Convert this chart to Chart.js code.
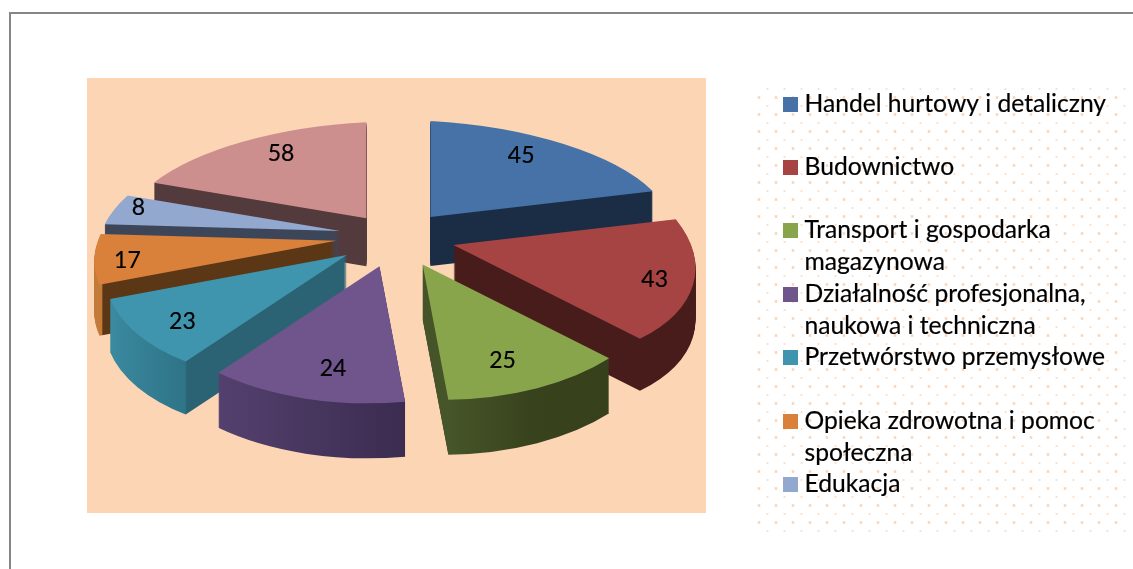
<!DOCTYPE html>
<html lang="pl">
<head>
<meta charset="utf-8">
<style>html,body{margin:0;padding:0;background:#fff}canvas{display:block}</style>
<script src="https://cdn.jsdelivr.net/npm/chart.js@4/dist/chart.umd.min.js"></script>
</head>
<body>
<canvas id="c" width="1133" height="569"></canvas>
<script>
// ---- data ----
const categories = ['Handel hurtowy i detaliczny','Budownictwo','Transport i gospodarka magazynowa',
  'Działalność profesjonalna, naukowa i techniczna','Przetwórstwo przemysłowe',
  'Opieka zdrowotna i pomoc społeczna','Edukacja',''];
const values = [45,43,25,24,23,17,8,58];
const legendLines = [['Handel hurtowy i detaliczny'],['Budownictwo'],['Transport i gospodarka','magazynowa'],
  ['Działalność profesjonalna,','naukowa i techniczna'],['Przetwórstwo przemysłowe'],
  ['Opieka zdrowotna i pomoc','społeczna'],['Edukacja']];

// ---- styles ----
const topColors = ['#4672a8','#a54442','#88a54b','#70558d','#4095ae','#d9803a','#92a8cf','#cd8e8e'];
const wallStops = [
  [[0,'#1a2d45'],[1,'#1a2d45']],
  [[0,'#471c1a'],[1,'#471c1a']],
  [[0,'#36401b'],[0.5,'#38431d'],[1,'#47552a']],
  [[0,'#3b2c50'],[1,'#54406e']],
  [[0,'#2b6374'],[0.005,'#2f7488'],[1,'#3b8ba1']],
  [[0,'#5c3716'],[0.972,'#5c3716'],[0.978,'#c47a38'],[1,'#c47a38']],
  [[0,'#3d4659'],[1,'#3d4659']],
  [[0,'#533b3d'],[1,'#533b3d']]
];
const radialWall = [false,false,false,false,false,true,false,false];
const drawOrder = [7,0,6,5,4,1,3,2];
const labelPullX = [0.94,1.08,0.93,0.85,1.02,1.11,1.14,0.93];
const labelPullY = [1.11,1.05,0.98,0.98,1.03,1.05,1.55,1.10];
const explodeGainX = [1.08,1.0,0.97,0.93,0.98,1.03,1.03,1.0];
const explodeGainY = [1.03,1.0,0.95,0.95,1,1,1,0.95];

// view projection: pie angle (deg clockwise from top) to the angle seen on the tilted disc
const warpFrom = [0,66.7,130.4,167.4,203,237,262,274,360];
const warpTo   = [0,66.8,129.6,173.9,221.8,258,283,298.5,360];
const view = {cx:396, cy:241, rx:242, ry:116, shift:20, ex:58, ey:28, depthBack:48, depthFront:55};
const FONT = 'Lato, Carlito, sans-serif';

function warp(deg){
  for(let i=1;i<warpFrom.length;i++){
    if(deg<=warpFrom[i]+1e-6){
      const t=(deg-warpFrom[i-1])/(warpFrom[i]-warpFrom[i-1]);
      return warpTo[i-1]+t*(warpTo[i]-warpTo[i-1]);
    }
  }
  return deg;
}
const rad=d=>d*Math.PI/180;
const rimVec=th=>[view.rx*Math.sin(rad(th)), view.shift-view.ry*Math.cos(rad(th))];

function sliceGeometry(el,i){
  const a0=(el.startAngle+Math.PI/2)*180/Math.PI, a1=(el.endAngle+Math.PI/2)*180/Math.PI;
  const t0=warp(a0), t1=warp(a1), tm=(t0+t1)/2;
  const apex=[view.cx+explodeGainX[i]*view.ex*Math.sin(rad(tm)), view.cy-explodeGainY[i]*view.ey*Math.cos(rad(tm))];
  const v0=rimVec(t0), v1=rimVec(t1);
  const s0=rad(t0-90), s1=rad(t1-90), R=el.outerRadius, x=el.x, y=el.y;
  const u0=[R*Math.cos(s0),R*Math.sin(s0)], u1=[R*Math.cos(s1),R*Math.sin(s1)];
  const det=u0[0]*u1[1]-u1[0]*u0[1];
  const a=(v0[0]*u1[1]-v1[0]*u0[1])/det, c=(v1[0]*u0[0]-v0[0]*u1[0])/det;
  const b=(v0[1]*u1[1]-v1[1]*u0[1])/det, d=(v1[1]*u0[0]-v0[1]*u1[0])/det;
  return {t0,t1,tm,apex,v0,v1,s0,s1,x,y,R,u0,u1,m:[a,b,c,d,apex[0]-a*x-c*y,apex[1]-b*x-d*y]};
}

// A gradient whose colour bands stay straight on screen although it is filled under the slice's transform.
function wallGradient(ctx,g,i){
  const [a,b,c,d,e,f]=g.m;
  let p0,p1;
  if(radialWall[i]){
    const mid=rimVec(g.tm);
    p0=g.apex; p1=[g.apex[0]+mid[0],g.apex[1]+mid[1]];
  }else{
    p0=[g.apex[0]+g.v0[0],g.apex[1]+g.v0[1]];
    p1=[g.apex[0]+g.v1[0],g.apex[1]+g.v1[1]];
  }
  const dx=p1[0]-p0[0], dy=p1[1]-p0[1], L=Math.hypot(dx,dy), nx=dx/L, ny=dy/L;
  const w=[a*nx+b*ny, c*nx+d*ny], k=L/(w[0]*w[0]+w[1]*w[1]);
  const det=a*d-b*c, px=p0[0]-e, py=p0[1]-f;
  const q0=[(d*px-c*py)/det, (a*py-b*px)/det];
  const gr=ctx.createLinearGradient(q0[0],q0[1],q0[0]+w[0]*k,q0[1]+w[1]*k);
  wallStops[i].forEach(s=>gr.addColorStop(s[0],s[1]));
  return gr;
}

function paintSlice(ctx,el,g,fill,dy){
  const saved={s:el.startAngle,e:el.endAngle,c:el.circumference,o:el.options};
  el.startAngle=g.s0; el.endAngle=g.s1; el.circumference=g.s1-g.s0;
  el.options=Object.assign({},saved.o,{backgroundColor:fill,borderWidth:0,offset:0});
  ctx.save();
  ctx.translate(0,dy);
  ctx.transform(...g.m);
  el.draw(ctx);
  ctx.restore();
  el.startAngle=saved.s; el.endAngle=saved.e; el.circumference=saved.c; el.options=saved.o;
}

const scene={
  id:'scene',
  beforeDraw(chart){
    const ctx=chart.ctx;
    ctx.save();
    ctx.fillStyle='#fff'; ctx.fillRect(0,0,1133,569);
    ctx.fillStyle='#868686';
    ctx.fillRect(9,12,1124,2); ctx.fillRect(9,12,2,557);
    ctx.fillStyle='#fcd5b5'; ctx.fillRect(87,78,619,435);
    // dotted legend panel
    for(let r=0;r<=52;r++){
      const y=89+r*8.5, big=r%2===1, x0=big?759:767.5, s=big?2.6:1.8;
      ctx.fillStyle=big?'#fcd5b5':'#fddcc3';
      for(let x=x0;x<1133;x+=17) ctx.fillRect(x-s/2,y-s/2,s,s);
    }
    ctx.restore();
  },
  beforeDatasetsDraw(chart){
    const ctx=chart.ctx, arcs=chart.getDatasetMeta(0).data;
    drawOrder.forEach(i=>{
      const el=arcs[i], g=sliceGeometry(el,i);
      const gr=wallGradient(ctx,g,i);
      const depth=view.depthBack+(view.depthFront-view.depthBack)*(1-Math.cos(rad(g.tm)))/2;
      for(let d=Math.round(depth);d>=1;d--) paintSlice(ctx,el,g,gr,d);
      paintSlice(ctx,el,g,topColors[i],0);
    });
    return false;
  },
  afterDraw(chart){
    const ctx=chart.ctx, arcs=chart.getDatasetMeta(0).data;
    ctx.save();
    ctx.fillStyle='#000'; ctx.strokeStyle='#000'; ctx.lineWidth=0.2;
    ctx.font='23px '+FONT; ctx.textAlign='center'; ctx.textBaseline='middle';
    arcs.forEach((el,i)=>{
      const g=sliceGeometry(el,i), v=rimVec(g.tm);
      const lx=view.cx+labelPullX[i]*v[0], ly=view.cy+labelPullY[i]*v[1];
      ctx.fillText(String(values[i]),lx,ly);
      ctx.strokeText(String(values[i]),lx,ly);
    });
    ctx.textAlign='left'; ctx.textBaseline='alphabetic';
    ctx.font='24.65px '+FONT;
    legendLines.forEach((lines,i)=>{
      const base=111.5+i*63.4;
      ctx.fillStyle=topColors[i];
      ctx.fillRect(783,Math.round(base)-15,15,15);
      ctx.fillStyle='#000';
      lines.forEach((t,j)=>{ctx.fillText(t,804.5,base+j*32);ctx.strokeText(t,804.5,base+j*32);});
    });
    ctx.restore();
  }
};

new Chart(document.getElementById('c'),{
  type:'pie',
  data:{labels:categories,datasets:[{data:values,backgroundColor:topColors,borderWidth:0}]},
  options:{responsive:false,animation:false,events:[],
    layout:{padding:0},
    plugins:{legend:{display:false},tooltip:{enabled:false}}},
  plugins:[scene]
});
</script>
</body>
</html>
